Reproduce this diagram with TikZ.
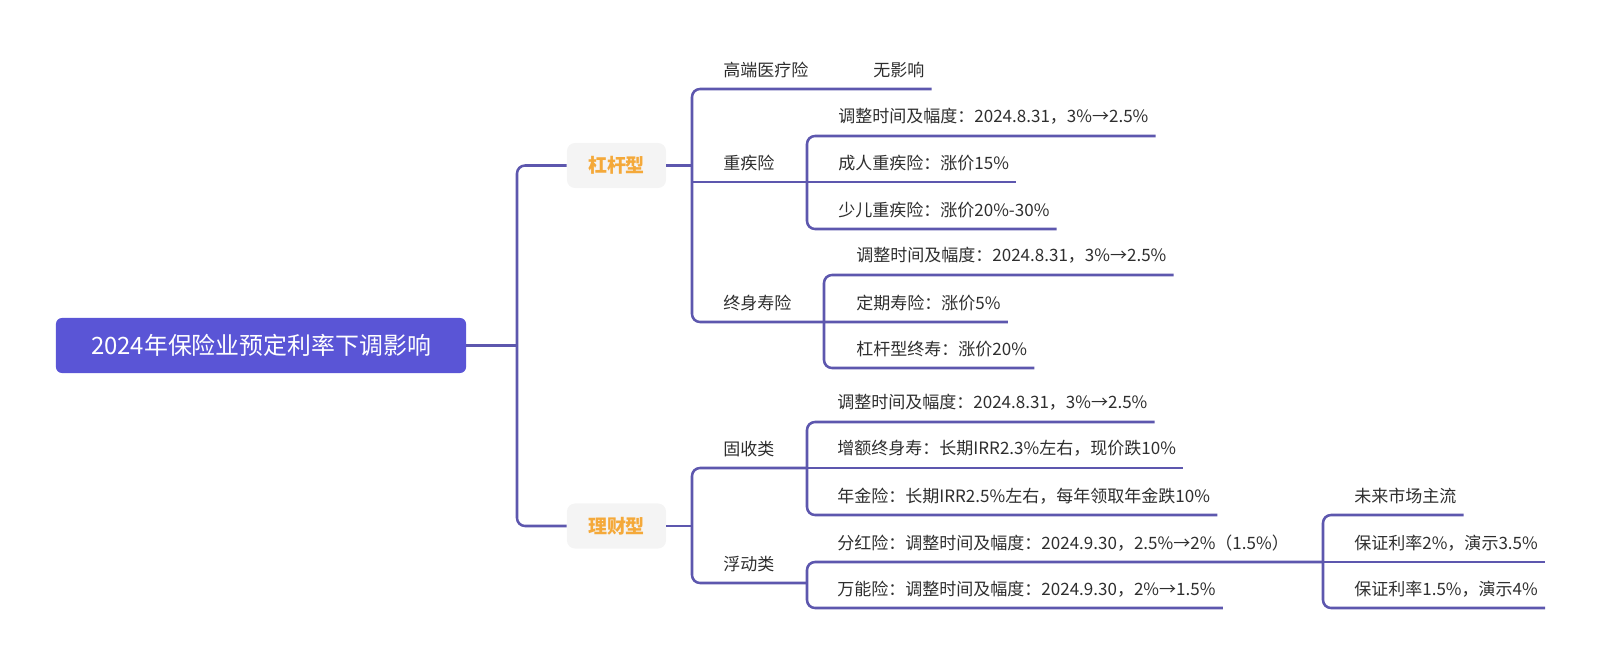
\documentclass[tikz,border=0pt]{standalone}
\usepackage{fontspec}
\setmainfont{Noto Sans CJK SC}
\usepackage{xcolor}
\usepackage{tikz}
\usetikzlibrary{positioning}
\usetikzlibrary{calc}

\definecolor{rootfill}{HTML}{5A55D6}
\definecolor{linkcol}{HTML}{5D57AE}
\definecolor{boxfill}{HTML}{F4F4F4}
\definecolor{boxtext}{HTML}{F4A93A}
\definecolor{txt}{HTML}{2E2E2E}

\tikzset{
    link/.style={draw=linkcol, line width=1.8pt, rounded corners=0.2cm},
    rootbox/.style={fill=rootfill, rounded corners=0.15cm, text=white, minimum width=10.25cm, minimum height=1.375cm, font=\fontsize{17}{20}\selectfont},
    kind/.style={fill=boxfill, rounded corners=0.2cm, text=boxtext, minimum width=2.475cm, minimum height=1.125cm, font=\fontsize{13.5}{16}\selectfont\bfseries},
    topic/.style={anchor=south west, inner xsep=0.175cm, inner ysep=0pt, minimum height=0.95cm, text=txt, font=\fontsize{12.1}{15}\selectfont},
}

\begin{document}
\begin{tikzpicture}[x=0.025cm, y=-0.025cm]
    \useasboundingbox (0,0) rectangle (1600,664);

    \node[rootbox] (root) at (261,345.5) {2024年保险业预定利率下调影响};
    \node[kind] (gg) at (616.5,165.5) {杠杆型};
    \node[kind] (lc) at (616.5,526) {理财型};

    \node[topic] (gd) at (716,89) {高端医疗险};
    \node[topic] (wy) at (866,89) {无影响};
    \node[topic] (zj) at (716,182) {重疾险};
    \node[topic] (zj1) at (831,136) {调整时间及幅度：2024.8.31，3\%→2.5\%};
    \node[topic] (zj2) at (831,182) {成人重疾险：涨价15\%};
    \node[topic] (zj3) at (831,229) {少儿重疾险：涨价20\%-30\%};
    \node[topic] (zs) at (716,322) {终身寿险};
    \node[topic] (zs1) at (849,275) {调整时间及幅度：2024.8.31，3\%→2.5\%};
    \node[topic] (zs2) at (849,322) {定期寿险：涨价5\%};
    \node[topic] (zs3) at (849,368) {杠杆型终寿：涨价20\%};

    \node[topic] (gs) at (716,468) {固收类};
    \node[topic] (gs1) at (830,422) {调整时间及幅度：2024.8.31，3\%→2.5\%};
    \node[topic] (gs2) at (830,468) {增额终身寿：长期IRR2.3\%左右，现价跌10\%};
    \node[topic] (gs3) at (830,515) {年金险：长期IRR2.5\%左右，每年领取年金跌10\%};
    \node[topic] (fd) at (716,583) {浮动类};
    \node[topic] (fd1) at (830,562) {分红险：调整时间及幅度：2024.9.30，2.5\%→2\%（1.5\%）};
    \node[topic] (fd2) at (830,608) {万能险：调整时间及幅度：2024.9.30，2\%→1.5\%};
    \node[topic] (fh1) at (1347,515) {未来市场主流};
    \node[topic] (fh2) at (1347,562) {保证利率2\%，演示3.5\%};
    \node[topic] (fh3) at (1347,608) {保证利率1.5\%，演示4\%};

    % bracket joints
    \coordinate (t1) at (517,345.5);
    \coordinate (b1) at (692,165.5);
    \coordinate (b2) at (807,182);
    \coordinate (b3) at (824,322);
    \coordinate (b4) at (807,468);
    \coordinate (b5) at (807,583);
    \coordinate (b6) at (692,526);
    \coordinate (b7) at (1323,562);

    \draw[link] (root.east) -- (t1);
    \draw[link] (gg.west) -| (t1) |- (lc.west);

    \draw[link] (gg.east) -- (b1);
    \draw[link] (wy.south east) -- (gd.south east) -| (b1) |- (b3) -- (zs2.south east);
    \draw[link] (b1 |- b2) -- (zj2.south east);
    \draw[link] (zj1.south east) -| (b2) |- (zj3.south east);
    \draw[link] (zs1.south east) -| (b3) |- (zs3.south east);

    \draw[link] (lc.east) -- (b6);
    \draw[link] (b4) -| (b6) |- (b5);
    \draw[link] (gs1.south east) -| (b4) |- (gs3.south east);
    \draw[link] (b4) -- (gs2.south east);
    \draw[link] (b7) -| (b5) |- (fd2.south east);
    \draw[link] (fh1.south east) -| (b7) |- (fh3.south east);
    \draw[link] (b7) -- (fh2.south east);
\end{tikzpicture}
\end{document}
